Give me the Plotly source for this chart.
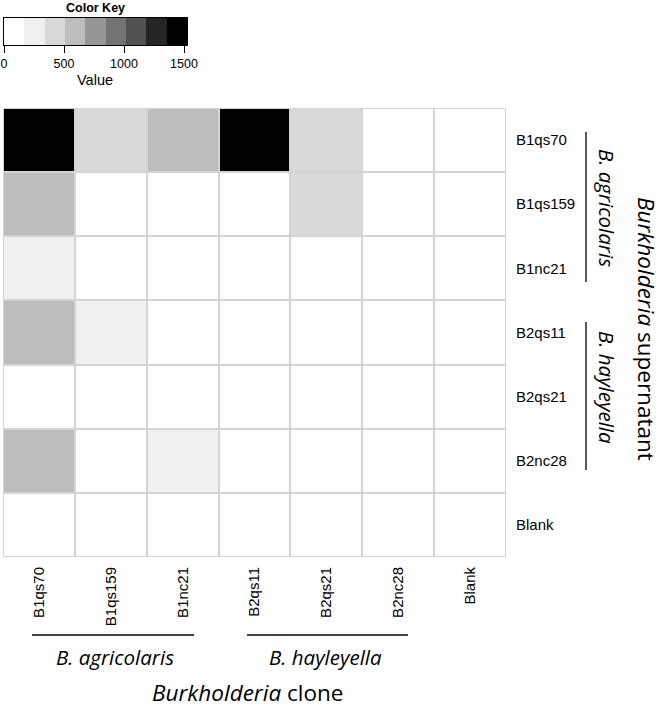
import plotly.graph_objects as go

# ---- data ----
clones = ["B1qs70", "B1qs159", "B1nc21", "B2qs11", "B2qs21", "B2nc28", "Blank"]
supernatants = ["B1qs70", "B1qs159", "B1nc21", "B2qs11", "B2qs21", "B2nc28", "Blank"]
# rows = supernatant, columns = clone
values = [
    [1500, 400, 600, 1500, 400, 0, 0],
    [600, 0, 0, 0, 400, 0, 0],
    [250, 0, 0, 0, 0, 0, 0],
    [600, 250, 0, 0, 0, 0, 0],
    [0, 0, 0, 0, 0, 0, 0],
    [600, 0, 250, 0, 0, 0, 0],
    [0, 0, 0, 0, 0, 0, 0],
]
key_max = 1525
key_colors = ["#ffffff", "#f0f0f0", "#d9d9d9", "#bdbdbd", "#969696",
              "#737373", "#525252", "#252525", "#000000"]
key_ticks = [0, 500, 1000, 1500]

W, H = 664, 710
def px(x):
    return x / W
def py(y):
    return 1 - y / H

n = len(key_colors)
colorscale = []
for i, c in enumerate(key_colors):
    colorscale.append([i / n, c])
    colorscale.append([(i + 1) / n, c])
bin_w = key_max / n
key_centers = [bin_w * (i + 0.5) for i in range(n)]

fig = go.Figure()
fig.add_trace(go.Heatmap(
    x=clones, y=supernatants, z=values, zmin=0, zmax=key_max,
    colorscale=colorscale, showscale=False, xgap=2, ygap=2,
    xaxis="x", yaxis="y"))
fig.add_trace(go.Heatmap(
    x=key_centers, y=[0.5], z=[key_centers], zmin=0, zmax=key_max,
    colorscale=colorscale, showscale=False, xaxis="x2", yaxis="y2"))

tickfont = dict(family="Liberation Sans, Arial", size=15, color="black")
fig.update_layout(
    width=W, height=H, template="none",
    margin=dict(l=0, r=0, t=0, b=0),
    paper_bgcolor="white", plot_bgcolor="#d4d4d4",
    xaxis=dict(domain=[px(3), px(506)], type="category", tickangle=-90,
               ticks="outside", ticklen=3, tickcolor="rgba(0,0,0,0)",
               showgrid=False, zeroline=False, showline=False,
               tickfont=tickfont, automargin=False),
    yaxis=dict(domain=[py(557), py(108)], type="category", side="right",
               autorange="reversed", ticks="outside", ticklen=6,
               tickcolor="rgba(0,0,0,0)", showgrid=False, zeroline=False,
               showline=False, tickfont=tickfont, automargin=False),
    xaxis2=dict(domain=[px(4), px(187)], anchor="y2", range=[0, key_max],
                tickvals=key_ticks, ticks="outside", ticklen=7, tickwidth=1,
                tickcolor="black", showline=True, mirror=True, linecolor="black",
                linewidth=1, showgrid=False, zeroline=False,
                tickfont=dict(family="Liberation Sans, Arial", size=12.5, color="black"),
                automargin=False),
    yaxis2=dict(domain=[py(45), py(18)], anchor="x2", range=[0, 1],
                showticklabels=False, ticks="", showline=True, mirror=True,
                linecolor="black", linewidth=1, showgrid=False, zeroline=False,
                automargin=False),
    showlegend=False,
)

ann_font = dict(family="Open Sans", color="black")
annotations = [
    dict(text="<b>Color Key</b>", x=px(95), y=py(8),
         font=dict(family="Liberation Sans, Arial", size=12.5, color="black")),
    dict(text="Value", x=px(95), y=py(80),
         font=dict(family="Liberation Sans, Arial", size=14.5, color="black")),
    dict(text="<i>B. agricolaris</i>", x=px(115), y=py(657), font=dict(size=20.5, **ann_font)),
    dict(text="<i>B. hayleyella</i>", x=px(325), y=py(657), font=dict(size=20.5, **ann_font)),
    dict(text="<i>Burkholderia</i> clone", x=px(247), y=py(692), font=dict(size=22.5, **ann_font)),
    dict(text="<i>B. agricolaris</i>", x=px(607), y=py(208), textangle=90, font=dict(size=20.5, **ann_font)),
    dict(text="<i>B. hayleyella</i>", x=px(607), y=py(387), textangle=90, font=dict(size=20.5, **ann_font)),
    dict(text="<i>Burkholderia</i> supernatant", x=px(647), y=py(329), textangle=90,
         font=dict(size=22.5, **ann_font)),
]
for a in annotations:
    a.update(xref="paper", yref="paper", showarrow=False, xanchor="center", yanchor="middle",
             borderpad=0)
fig.update_layout(annotations=annotations)

lines = [
    (32, 635, 194, 635), (247, 635, 408, 635),
    (586, 132, 586, 282), (586, 322, 586, 470),
]
for x0, y0, x1, y1 in lines:
    fig.add_shape(type="line", xref="paper", yref="paper",
                  x0=px(x0), y0=py(y0), x1=px(x1), y1=py(y1),
                  line=dict(color="black", width=1.3))

fig.write_html("out.html", config={"displayModeBar": False},
               post_script="document.body.style.margin='0';")
